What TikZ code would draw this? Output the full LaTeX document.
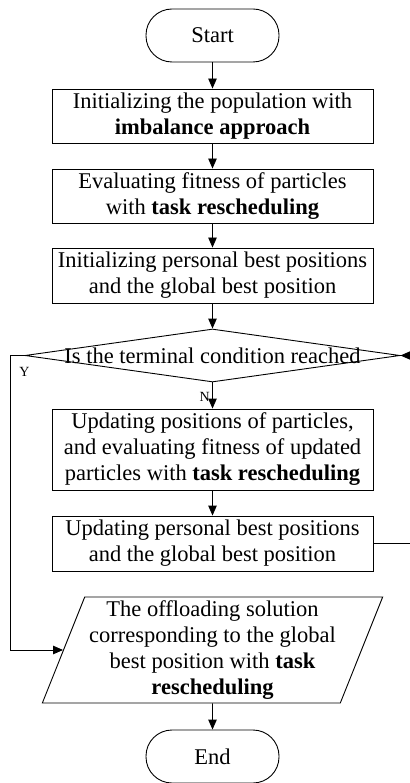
\documentclass[tikz,border=0pt]{standalone}
\usepackage{fontspec}
\setmainfont{Liberation Serif}
\usepackage{tikz}
\usetikzlibrary{shapes.geometric,arrows.meta,positioning,calc}

\begin{document}
\begin{tikzpicture}[
    x=1pt, y=-1pt,
    txt/.style={font=\fontsize{22.5pt}{26pt}\selectfont},
    termbox/.style={rectangle, draw, line width=0.9pt, rounded corners=26pt, minimum width=133pt, minimum height=53pt, txt},
    procbox/.style={rectangle, draw, line width=0.9pt, minimum width=321pt, minimum height=54pt, inner xsep=2pt, inner ysep=1pt, align=center, txt},
    decbox/.style={diamond, draw, line width=0.9pt, minimum width=375pt, minimum height=53pt, inner sep=0pt, txt},
    iobox/.style={trapezium, trapezium left angle=67.5, trapezium right angle=112.5, trapezium stretches=true, draw, line width=0.9pt, minimum width=341pt, minimum height=106pt, inner sep=0pt, align=center, txt},
    arr/.style={-{Triangle[length=10pt,width=8.5pt]}, line width=0.9pt},
    yn/.style={font=\fontsize{14pt}{16pt}\selectfont},
  ]
    \useasboundingbox (0,0) rectangle (409,783);

    % Terminals
    \node[termbox] (start) at (212.5,35.5) {Start};
    \node[termbox] (stop) at (212.5,756.5) {End};

    % Initialisation
    \node[procbox] (init) at (212.5,116) {Initializing the population with\\\textbf{imbalance approach}};
    \node[procbox] (eval) at (212.5,196) {Evaluating fitness of particles\\with \textbf{task rescheduling}};
    \node[procbox, minimum height=55pt] (best) at (212.5,275.5) {Initializing personal best positions\\and the global best position};

    % Decision
    \node[decbox] (cond) at (212.5,355.5) {\makebox[0pt]{Is the terminal condition reached}};

    % Main loop
    \node[procbox, minimum height=81pt] (move) at (212.5,449.5) {Updating positions of particles,\\and evaluating fitness of updated\\particles with \textbf{task rescheduling}};
    \node[procbox, minimum height=55pt] (upd) at (212.5,543.5) {Updating personal best positions\\and the global best position};

    % Output
    \node[iobox] (out) at (212.5,650) {The offloading solution\\corresponding to the global\\best position with \textbf{task}\\\textbf{rescheduling}};

    % Loop corners
    \coordinate (loopL) at (10,0);
    \coordinate (loopR) at (410,0);

    % Arrows
    \draw[arr] (start) -- (init);
    \draw[arr] (init) -- (eval);
    \draw[arr] (eval) -- (best);
    \draw[arr] (best) -- (cond);
    \draw[arr] (cond) -- node[yn, left, pos=0.55, xshift=1pt] {N} (move);
    \draw[arr] (move) -- (upd);
    \draw[arr] (upd.east) -- (upd.east -| loopR) |- (cond.east);
    \draw[arr] (cond.west) node[yn, below, yshift=-8pt] {Y} -- (cond.west -| loopL) |- (out);
    \draw[arr] (out) -- (stop);

  \end{tikzpicture}
\end{document}
